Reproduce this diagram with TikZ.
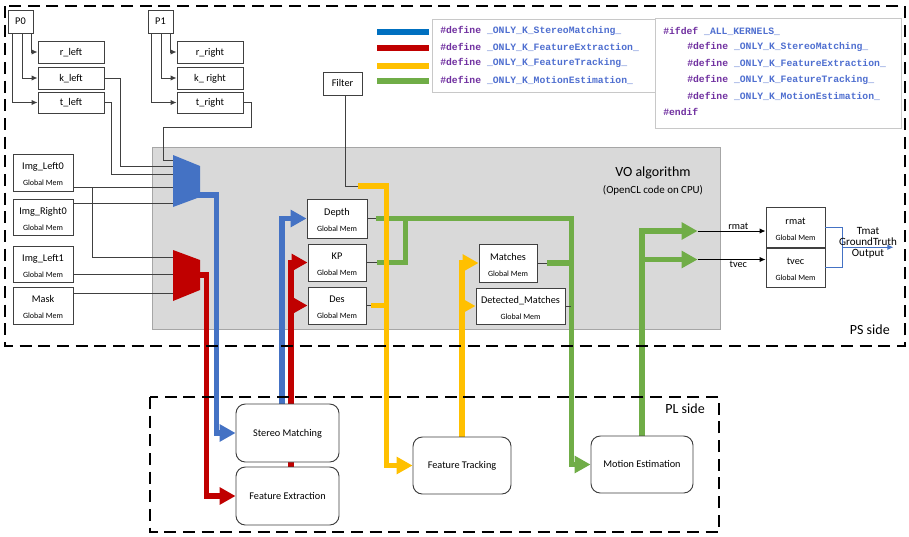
\documentclass[tikz,border=0pt]{standalone}
\usepackage{fontspec}
\setmainfont{Carlito}
\newfontfamily\codefont{Liberation Mono}
\usetikzlibrary{arrows.meta,calc,fit}
\pgfdeclarelayer{bg}\pgfdeclarelayer{mid}
\pgfsetlayers{bg,mid,main}
\definecolor{cblue}{HTML}{4472C4}
\definecolor{lblue}{HTML}{0070C0}
\definecolor{cred}{HTML}{C00000}
\definecolor{cyel}{HTML}{FFC000}
\definecolor{cgrn}{HTML}{70AD47}
\definecolor{cgray}{HTML}{D9D9D9}
\definecolor{cgrayb}{HTML}{A6A6A6}
\definecolor{cline}{HTML}{404040}
\definecolor{cpurp}{HTML}{7030A0}
\definecolor{ccode}{HTML}{4F6FD0}
\definecolor{cframe}{HTML}{C8C8C8}
\tikzset{
 box/.style={draw=cline, fill=white, line width=0.7pt, inner sep=0pt},
 membox/.style={box},
 proc/.style={box, rounded corners=7pt},
 nmtxt/.style={anchor=base, inner sep=0pt, font=\fontsize{7.7}{9}\selectfont},
 gmtxt/.style={anchor=base, inner sep=0pt, font=\fontsize{6}{7}\selectfont},
 wire/.style={draw=cline, line width=0.7pt},
 wirea/.style={wire, -{Latex[length=4.5pt,width=4pt]}},
 fat/.style={line width=4.3pt},
 fata/.style={fat, -{Triangle[length=12pt,width=12.5pt]}},
 dashbox/.style={draw=black, line width=2pt, dash pattern=on 9pt off 5pt},
 codeln/.style={anchor=west, inner sep=0pt, font=\codefont\bfseries\fontsize{7.3}{8}\selectfont},
 lbl/.style={inner sep=1pt, font=\fontsize{7.7}{9}\selectfont},
}
\newcommand{\memtext}[2]{%
 \node[nmtxt] (#1-n) at ($(#1.center)+(0,-3)$) {#2};
 \node[gmtxt] (#1-g) at ($(#1.center)+(0,13)$) {Global Mem};}
\newcommand{\boxtext}[2]{%
 \node[nmtxt] (#1-t) at ($(#1.center)+(0,3.3)$) {#2};}
\begin{document}
\begin{tikzpicture}[x=0.75pt,y=-0.75pt]
\path[use as bounding box] (0,0) rectangle (909,536);
\begin{pgfonlayer}{bg}
\fill[white] (0,0) rectangle (909,536);
\fill[cgray, draw=cgrayb, line width=0.7pt] (152,147) rectangle (720,329);
\end{pgfonlayer}

% regions
\draw[dashbox] (5,6) rectangle (905,346);
\draw[dashbox] (150,397) rectangle (719,532);
\node[font=\fontsize{10.5}{12}\selectfont, anchor=east, inner sep=0pt] (pslbl) at (890,330) {PS side};
\node[font=\fontsize{10.5}{12}\selectfont, anchor=east, inner sep=0pt] (pllbl) at (705,409) {PL side};
\node[font=\fontsize{10.5}{12}\selectfont] (vo) at (653,173) {VO algorithm};
\node[font=\fontsize{8.2}{10}\selectfont] (vo2) at (653,190) {(OpenCL code on CPU)};

% legend
\draw[draw=cframe, fill=white, line width=0.7pt] (432,19) rectangle (655,92);
\draw[draw=cframe, fill=white, line width=0.7pt] (655,18) rectangle (901,128);
\fill[lblue] (377,29) rectangle (429,35);
\fill[cred] (377,45) rectangle (429,51);
\fill[cyel] (377,63) rectangle (429,69);
\fill[cgrn] (377,78) rectangle (429,84);
\node[codeln] (la) at (440,31) {\textcolor{cpurp}{\#define} \textcolor{ccode}{\_ONLY\_K\_StereoMatching\_}};
\node[codeln] (lb) at (440,47) {\textcolor{cpurp}{\#define} \textcolor{ccode}{\_ONLY\_K\_FeatureExtraction\_}};
\node[codeln] (lc) at (440,63) {\textcolor{cpurp}{\#define} \textcolor{ccode}{\_ONLY\_K\_FeatureTracking\_}};
\node[codeln] (ld) at (440,80) {\textcolor{cpurp}{\#define} \textcolor{ccode}{\_ONLY\_K\_MotionEstimation\_}};
\node[codeln] (ca) at (663,31) {\textcolor{cpurp}{\#ifdef} \textcolor{ccode}{\_ALL\_KERNELS\_}};
\node[codeln] (cb) at (687,47) {\textcolor{cpurp}{\#define} \textcolor{ccode}{\_ONLY\_K\_StereoMatching\_}};
\node[codeln] (cc) at (687,63) {\textcolor{cpurp}{\#define} \textcolor{ccode}{\_ONLY\_K\_FeatureExtraction\_}};
\node[codeln] (cd) at (687,80) {\textcolor{cpurp}{\#define} \textcolor{ccode}{\_ONLY\_K\_FeatureTracking\_}};
\node[codeln] (ce) at (687,96) {\textcolor{cpurp}{\#define} \textcolor{ccode}{\_ONLY\_K\_MotionEstimation\_}};
\node[codeln] (cf) at (663,112) {\textcolor{cpurp}{\#endif}};

% parameter boxes
\node[box, fit={(8,10)(33,33)}] (p0) {};
\node[box, fit={(38,41)(104,63)}] (rlf) {};
\node[box, fit={(38,67)(104,89)}] (klf) {};
\node[box, fit={(38,92)(104,113)}] (tlf) {};
\node[box, fit={(148,10)(173,33)}] (p1) {};
\node[box, fit={(177,41)(243,63)}] (rrt) {};
\node[box, fit={(177,67)(243,89)}] (krt) {};
\node[box, fit={(177,92)(243,113)}] (trt) {};
\node[box, fit={(323,72)(362,95)}] (flt) {};
\boxtext{p0}{P0}
\boxtext{rlf}{r\_left}
\boxtext{klf}{k\_left}
\boxtext{tlf}{t\_left}
\boxtext{p1}{P1}
\boxtext{rrt}{r\_right}
\boxtext{krt}{k\_ right}
\boxtext{trt}{t\_right}
\boxtext{flt}{Filter}

\draw[wirea] ($(p0.south west)+(24,0)$) |- (rlf.west);
\draw[wirea] ($(p0.south west)+(15,0)$) |- (klf.west);
\draw[wirea] ($(p0.south west)+(5,0)$) |- (tlf.west);
\draw[wirea] ($(p1.south west)+(23,0)$) |- (rrt.west);
\draw[wirea] ($(p1.south west)+(14,0)$) |- (krt.west);
\draw[wirea] ($(p1.south west)+(4,0)$) |- (trt.west);

% memory boxes
\node[membox, fit={(13,154)(73,191)}] (il0) {};
\node[membox, fit={(13,199)(73,235)}] (ir0) {};
\node[membox, fit={(13,246)(73,282)}] (il1) {};
\node[membox, fit={(13,287)(73,324)}] (msk) {};
\node[membox, fit={(307,199)(367,238)}] (dep) {};
\node[membox, fit={(308,244)(366,281)}] (kp) {};
\node[membox, fit={(308,287)(366,324)}] (des) {};
\node[membox, fit={(479,244)(537,282)}] (mat) {};
\node[membox, fit={(476,288)(565,324)}] (dm) {};
\node[membox, fit={(766,207)(825,247)}] (rmt) {};
\node[membox, fit={(766,248)(825,287)}] (tvc) {};
\memtext{il0}{Img\_Left0}
\memtext{ir0}{Img\_Right0}
\memtext{il1}{Img\_Left1}
\memtext{msk}{Mask}
\memtext{dep}{Depth}
\memtext{kp}{KP}
\memtext{des}{Des}
\memtext{mat}{Matches}
\memtext{dm}{Detected\_Matches}
\memtext{rmt}{rmat}
\memtext{tvc}{tvec}

% kernels
\node[proc, fit={(236,404)(339,462)}] (sm) {};
\node[proc, fit={(236,467)(339,525)}] (fe) {};
\node[proc, fit={(413,437)(511,494)}] (ft) {};
\node[proc, fit={(591,436)(693,493)}] (me) {};
\boxtext{sm}{Stereo Matching}
\boxtext{fe}{Feature Extraction}
\boxtext{ft}{Feature Tracking}
\boxtext{me}{Motion Estimation}

% multiplexers
\coordinate (bin1) at (173,160);
\coordinate (bin2) at (173,166);
\coordinate (bin3) at (173,174);
\coordinate (bin4) at (173,187);
\coordinate (bin5) at (173,203);
\coordinate (rin1) at (173,257);
\coordinate (rin2) at (173,274);
\coordinate (rin3) at (173,293);
\coordinate (bout) at (198,195);
\coordinate (rout) at (198,275);
\coordinate (jl0) at (92,187);

\draw[wire] (klf.east) -| (120,166) -- (bin2);
\draw[wire] (tlf.east) -| (111,174) -- (bin3);
\draw[wire] (trt.east) -| (251,127) -| (163,160) -- (bin1);
\draw[wire] (il0.east |- bin4) -- (bin4);
\draw[wire] (jl0) |- (rin1);
\draw[wire] (ir0.east |- bin5) -- (bin5);
\draw[wire] (il1.east |- rin2) -- (rin2);
\draw[wire] (msk.east |- rin3) -- (rin3);

\fill[cblue] (173,155) -- (200,166) -- (200,197) -- (173,207) -- cycle;
\fill[cred] (173,250) -- (200,260) -- (200,290) -- (173,301) -- cycle;

% thick coloured connectors
\begin{pgfonlayer}{mid}
\draw[fata, cblue] (bout) -| ($(sm.west)+(-19,0)$) -- (sm.west);
\draw[fata, cred] (rout) -| ($(fe.west)+(-29,0)$) -- (fe.west);
\draw[fata, cblue] ($(sm.north)+(-5.5,0)$) |- (dep.west);
\draw[fata, cred] ($(fe.north)+(3.5,0)$) |- (kp.west);
\draw[fata, cred] ($(fe.north)+(3.5,0)$) |- (des.west);
% green
\draw[wire] (dep.east) -- ++(9,0);
\draw[fata, cgrn] ($(dep.east)+(9,0)$) -| ($(me.west)+(-19,0)$) -- (me.west);
\draw[wire] (kp.east) -- ++(11,0);
\draw[fat, cgrn] ($(kp.east)+(11,0)$) -| ($(dep.east)+(38,0)$);
\draw[wire] (mat.east) -- ++(10,0);
\draw[fat, cgrn] ($(mat.east)+(10,0)$) -- ($(mat.east)+(35,0)$);
\draw[wire] (dm.east) -- ++(6,0);
\coordinate (ra) at ($(rmt.west)+(-68,4)$);
\coordinate (ta) at ($(tvc.west)+(-68,-8)$);
\draw[fata, cgrn] (me.north) |- (ra);
\draw[fata, cgrn] (me.north) |- (ta);
% yellow
\coordinate (yst) at (358,186);
\draw[wire] ($(flt.south)+(2.5,0)$) |- (yst);
\draw[fata, cyel] (yst) -| ($(ft.west)+(-26,0)$) -- (ft.west);
\draw[wire] (des.east) -- ++(6,0);
\draw[fat, cyel] ($(des.east)+(5,0)$) -- ($(des.east)+(22,0)$);
\draw[fata, cyel] (ft.north) |- (mat.west);
\draw[fata, cyel] (ft.north) |- (dm.west);
\end{pgfonlayer}

% outputs
\draw[wirea, draw=black] (ra) -- (ra -| rmt.west) node[lbl, pos=0.6, above] {rmat};
\draw[wirea, draw=black] (ta) -- (ta -| tvc.west) node[lbl, pos=0.6, below] {tvec};
\coordinate (jb) at ($(rmt.east)!0.5!(tvc.east)+(17,0)$);
\draw[draw=cblue, line width=0.7pt] (rmt.east) -| (jb) |- (tvc.east);
\draw[draw=cblue, line width=0.7pt, -{Latex[length=4.5pt,width=4pt]}] (jb) -- ++(51,0);
\node[font=\fontsize{8.3}{8.3}\selectfont, align=center, inner sep=0pt] (tmat) at (868,242.5) {Tmat\\GroundTruth\\Output};
\end{tikzpicture}
\end{document}
